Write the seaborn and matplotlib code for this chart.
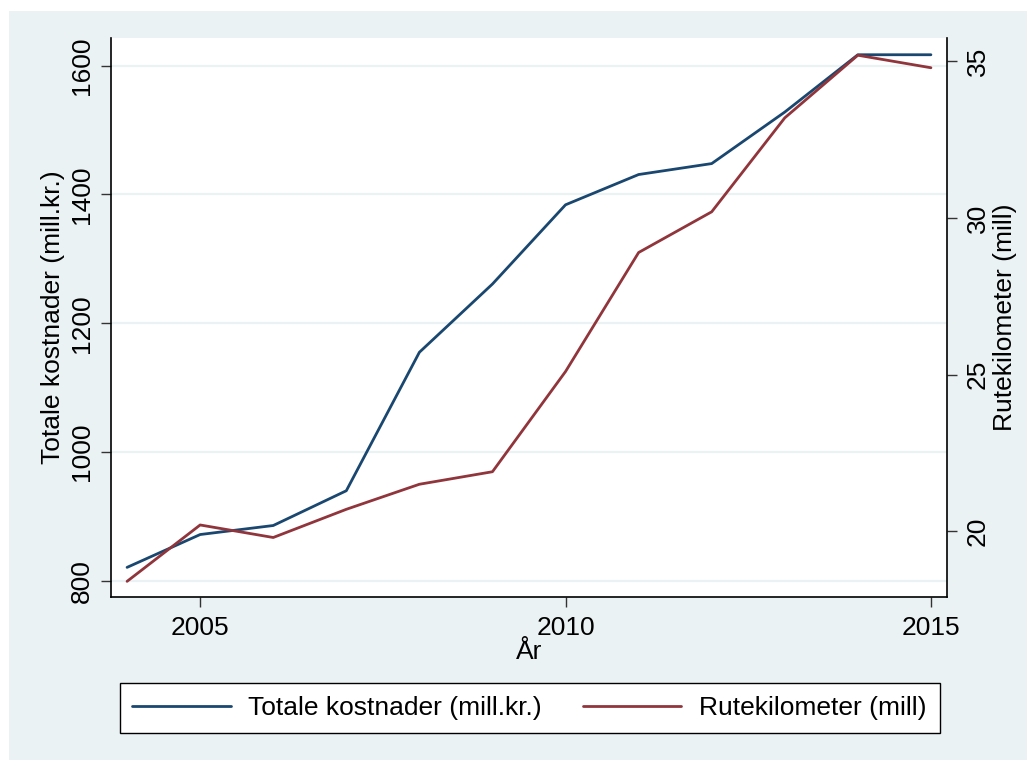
import matplotlib
matplotlib.use("Agg")
import matplotlib.pyplot as plt
import seaborn as sns
import pandas as pd
from matplotlib.patches import Rectangle

years = [2004, 2005, 2006, 2007, 2008, 2009, 2010, 2011, 2012, 2013, 2014, 2015]
kostnader = [821, 872, 886, 940, 1155, 1261, 1384, 1431, 1448, 1528, 1617, 1617]
rutekm = [18.4, 20.2, 19.8, 20.7, 21.5, 21.9, 25.1, 28.9, 30.2, 33.2, 35.2, 34.8]

df = pd.DataFrame({"År": years, "kost": kostnader, "rute": rutekm})

sns.set_style("white")
plt.rcParams["font.family"] = ["Liberation Sans", "DejaVu Sans"]
plt.rcParams["text.color"] = "black"
plt.rcParams["axes.labelcolor"] = "black"
plt.rcParams["xtick.color"] = "black"
plt.rcParams["ytick.color"] = "black"

blue = "#1a476f"
red = "#90353b"
bg = "#eaf2f3"
fs = 19

fig = plt.figure(figsize=(10.35, 7.6), dpi=100)
fig.patch.set_facecolor("white")
fig.patches.append(Rectangle((9 / 1035, 0), 1018 / 1035, 1 - 11 / 760,
                             transform=fig.transFigure, facecolor=bg,
                             edgecolor="none", zorder=-10))
# legend box
fig.patches.append(Rectangle((120 / 1035, 1 - 733 / 760), 820 / 1035, 50 / 760,
                             transform=fig.transFigure, facecolor="white",
                             edgecolor="black", linewidth=1, zorder=1))

ax = fig.add_axes([111 / 1035, 1 - 597 / 760, 836 / 1035, 559 / 760])
ax.set_facecolor("white")
ax2 = ax.twinx()

sns.lineplot(data=df, x="År", y="kost", ax=ax, color=blue, linewidth=2,
             label="Totale kostnader (mill.kr.)", legend=False)
sns.lineplot(data=df, x="År", y="rute", ax=ax2, color=red, linewidth=2,
             label="Rutekilometer (mill)", legend=False)

ax.set_xlim(2003.78, 2015.22)
ax.set_ylim(775, 1643)
ax2.set_ylim(17.9, 35.75)

ax.set_xticks([2005, 2010, 2015])
ax.set_yticks([800, 1000, 1200, 1400, 1600])
ax2.set_yticks([20, 25, 30, 35])
ax.yaxis.grid(True, color=bg, linewidth=1.6)
ax.xaxis.grid(False)
ax2.grid(False)

for a in (ax, ax2):
    for s in a.spines.values():
        s.set_visible(False)
ax.spines["left"].set_visible(True)
ax.spines["bottom"].set_visible(True)
ax2.spines["right"].set_visible(True)
for s in (ax.spines["left"], ax.spines["bottom"], ax2.spines["right"]):
    s.set_color("black")
    s.set_linewidth(1.2)

ax.tick_params(axis="both", direction="out", length=7.5, width=1, color="#333333",
               labelsize=fs, left=True, bottom=True, pad=6)
ax.tick_params(axis="y", labelrotation=90, pad=5)
ax2.tick_params(axis="y", direction="out", length=7.5, width=1, color="#333333",
                labelsize=fs, right=True, labelrotation=90, pad=6)
for lbl in ax.get_yticklabels() + ax2.get_yticklabels():
    lbl.set_va("center")

ax.set_xlabel("År", fontsize=fs, labelpad=0)
ax.set_ylabel("Totale kostnader (mill.kr.)", fontsize=fs, labelpad=3)
ax2.set_ylabel("Rutekilometer (mill)", fontsize=fs, labelpad=2, rotation=90)

h1, l1 = ax.get_legend_handles_labels()
h2, l2 = ax2.get_legend_handles_labels()
leg = fig.legend(h1 + h2, l1 + l2, loc="center left", ncol=2,
                 bbox_to_anchor=(120 / 1035, 1 - 708 / 760),
                 fontsize=fs, frameon=False,
                 handlelength=3.75, handletextpad=0.65, borderaxespad=0,
                 borderpad=0.45, columnspacing=1.55)
leg.set_zorder(2)

fig.savefig("out.png", dpi=100, facecolor=fig.get_facecolor())
